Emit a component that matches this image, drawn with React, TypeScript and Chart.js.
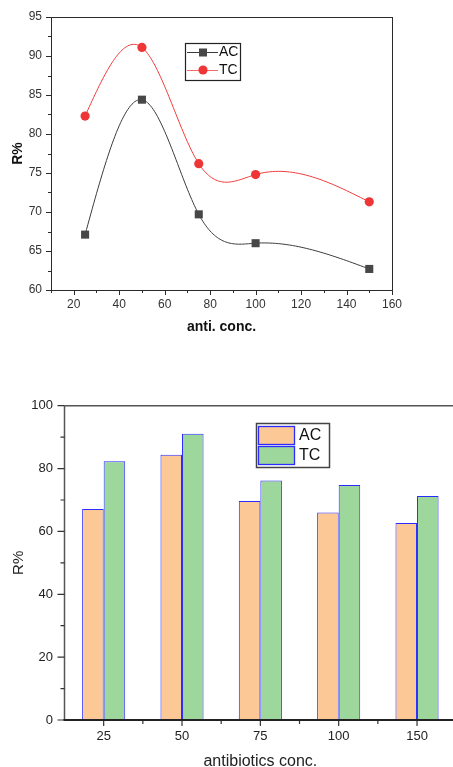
import React, { useEffect, useRef } from "react";
import { Chart, registerables } from "chart.js";

Chart.register(...registerables);

// ---------- data ----------
const concentrations = [25, 50, 75, 100, 150];
const categoryLabels = ["25", "50", "75", "100", "150"];
const acValues = [67.1, 84.4, 69.7, 66.0, 62.7];
const tcValues = [82.3, 91.1, 76.2, 74.8, 71.3];

const lineXTicks = [20, 40, 60, 80, 100, 120, 140, 160];
const lineXMinor = [10, 30, 50, 70, 90, 110, 130, 150];
const lineYTicks = [60, 65, 70, 75, 80, 85, 90, 95];
const lineYMinor = [62.5, 67.5, 72.5, 77.5, 82.5, 87.5, 92.5];
const barYTicks = [0, 20, 40, 60, 80, 100];
const barYMinor = [10, 30, 50, 70, 90];

const FONT = "'Liberation Sans', Arial, Helvetica, sans-serif";
const BAR_TOP = 345;

function crisp(v: number) {
  return Math.round(v) + 0.5;
}

// natural cubic spline through element pixel positions (x monotonic)
function drawNaturalSpline(ctx: CanvasRenderingContext2D, pts: { x: number; y: number }[]) {
  const n = pts.length;
  if (n < 2) return;
  const h: number[] = [];
  for (let i = 0; i < n - 1; i++) h.push(pts[i + 1].x - pts[i].x);
  const M = new Array(n).fill(0);
  if (n > 2) {
    const m = n - 2;
    const a: number[] = [], b: number[] = [], c: number[] = [], d: number[] = [];
    for (let k = 0; k < m; k++) {
      const i = k + 1;
      a.push(h[i - 1]);
      b.push(2 * (h[i - 1] + h[i]));
      c.push(h[i]);
      d.push(6 * ((pts[i + 1].y - pts[i].y) / h[i] - (pts[i].y - pts[i - 1].y) / h[i - 1]));
    }
    for (let k = 1; k < m; k++) {
      const w = a[k] / b[k - 1];
      b[k] -= w * c[k - 1];
      d[k] -= w * d[k - 1];
    }
    const sol = new Array(m).fill(0);
    sol[m - 1] = d[m - 1] / b[m - 1];
    for (let k = m - 2; k >= 0; k--) sol[k] = (d[k] - c[k] * sol[k + 1]) / b[k];
    for (let k = 0; k < m; k++) M[k + 1] = sol[k];
  }
  ctx.beginPath();
  ctx.moveTo(pts[0].x, pts[0].y);
  for (let i = 0; i < n - 1; i++) {
    const hi = h[i];
    const steps = 40;
    for (let s = 1; s <= steps; s++) {
      const t = pts[i].x + (hi * s) / steps;
      const A = pts[i + 1].x - t;
      const B = t - pts[i].x;
      const y =
        (M[i] * A * A * A) / (6 * hi) +
        (M[i + 1] * B * B * B) / (6 * hi) +
        (pts[i].y / hi - (M[i] * hi) / 6) * A +
        (pts[i + 1].y / hi - (M[i + 1] * hi) / 6) * B;
      ctx.lineTo(t, y);
    }
  }
  ctx.stroke();
}

const splinePlugin = {
  id: "splineLines",
  beforeDatasetsDraw(chart: any) {
    const { ctx, chartArea: a } = chart;
    ctx.save();
    ctx.beginPath();
    ctx.rect(a.left, a.top, a.right - a.left, a.bottom - a.top);
    ctx.clip();
    chart.data.datasets.forEach((ds: any, i: number) => {
      const meta = chart.getDatasetMeta(i);
      const pts = meta.data.map((p: any) => ({ x: p.x, y: p.y }));
      ctx.strokeStyle = ds.lineColor;
      ctx.lineWidth = 1;
      drawNaturalSpline(ctx, pts);
    });
    ctx.restore();
  },
};

const lineFramePlugin = {
  id: "lineFrame",
  afterDraw(chart: any) {
    const { ctx, chartArea: a, scales } = chart;
    const xs = scales.x;
    const ys = scales.y;
    ctx.save();
    ctx.strokeStyle = "#2a2a2a";
    ctx.lineWidth = 1;
    ctx.strokeRect(crisp(a.left), crisp(a.top), Math.round(a.right - a.left), Math.round(a.bottom - a.top));
    ctx.beginPath();
    lineYTicks.forEach((v) => {
      const p = crisp(ys.getPixelForValue(v));
      ctx.moveTo(a.left - 5, p);
      ctx.lineTo(a.left, p);
    });
    lineYMinor.forEach((v) => {
      const p = crisp(ys.getPixelForValue(v));
      ctx.moveTo(a.left - 3, p);
      ctx.lineTo(a.left, p);
    });
    lineXTicks.forEach((v) => {
      const p = crisp(xs.getPixelForValue(v));
      ctx.moveTo(p, a.bottom);
      ctx.lineTo(p, a.bottom + 5);
    });
    lineXMinor.forEach((v) => {
      const p = crisp(xs.getPixelForValue(v));
      ctx.moveTo(p, a.bottom);
      ctx.lineTo(p, a.bottom + 3);
    });
    ctx.stroke();

    // legend
    ctx.strokeStyle = "#222";
    ctx.lineWidth = 1.2;
    ctx.strokeRect(185.5, 43.5, 55, 37);
    // AC
    ctx.strokeStyle = "#3c3c3c";
    ctx.lineWidth = 1;
    ctx.beginPath();
    ctx.moveTo(187, 52.5);
    ctx.lineTo(218, 52.5);
    ctx.stroke();
    ctx.fillStyle = "#474747";
    ctx.fillRect(199, 48.5, 8, 8);
    // TC
    ctx.strokeStyle = "#f56a6a";
    ctx.beginPath();
    ctx.moveTo(187, 70.5);
    ctx.lineTo(218, 70.5);
    ctx.stroke();
    ctx.fillStyle = "#ee3636";
    ctx.beginPath();
    ctx.arc(203, 70, 4.6, 0, Math.PI * 2);
    ctx.fill();
    ctx.fillStyle = "#111";
    ctx.font = `14px ${FONT}`;
    ctx.textBaseline = "middle";
    ctx.textAlign = "left";
    ctx.fillText("AC", 219, 52.5);
    ctx.fillText("TC", 219, 70.5);
    ctx.restore();
  },
};

const barFramePlugin = {
  id: "barFrame",
  afterDraw(chart: any) {
    const { ctx, chartArea: a, scales } = chart;
    const xs = scales.x;
    const ys = scales.y;
    ctx.save();
    ctx.strokeStyle = "#555";
    ctx.lineWidth = 1.5;
    ctx.beginPath();
    ctx.moveTo(a.left, a.top);
    ctx.lineTo(chart.width, a.top);
    ctx.stroke();
    ctx.beginPath();
    ctx.moveTo(a.left, a.top);
    ctx.lineTo(a.left, a.bottom);
    ctx.stroke();
    ctx.lineWidth = 1.2;
    ctx.strokeStyle = "#333";
    ctx.beginPath();
    barYTicks.forEach((v) => {
      const p = ys.getPixelForValue(v);
      ctx.moveTo(a.left - 7, p);
      ctx.lineTo(a.left, p);
    });
    barYMinor.forEach((v) => {
      const p = ys.getPixelForValue(v);
      ctx.moveTo(a.left - 4, p);
      ctx.lineTo(a.left, p);
    });
    ctx.stroke();
    ctx.beginPath();
    categoryLabels.forEach((_, i) => {
      const p = xs.getPixelForValue(i);
      ctx.moveTo(p, a.bottom);
      ctx.lineTo(p, a.bottom + 6);
    });
    for (let i = 0; i < categoryLabels.length - 1; i++) {
      const p = xs.getPixelForValue(i + 0.5);
      ctx.moveTo(p, a.bottom);
      ctx.lineTo(p, a.bottom + 4);
    }
    ctx.stroke();
    ctx.strokeStyle = "#222";
    ctx.lineWidth = 2;
    ctx.beginPath();
    ctx.moveTo(a.left - 1, a.bottom);
    ctx.lineTo(chart.width, a.bottom);
    ctx.stroke();

    // legend
    const ly = 423 - BAR_TOP;
    ctx.strokeStyle = "#444";
    ctx.lineWidth = 1.5;
    ctx.strokeRect(256.5, ly + 0.5, 73, 44);
    ctx.lineWidth = 1.3;
    ctx.strokeStyle = "#2b2bff";
    ctx.fillStyle = "#fcc896";
    ctx.fillRect(258.5, ly + 3.5, 36, 18);
    ctx.strokeRect(258.5, ly + 3.5, 36, 18);
    ctx.fillStyle = "#9ed79c";
    ctx.fillRect(258.5, ly + 23.5, 36, 18);
    ctx.strokeRect(258.5, ly + 23.5, 36, 18);
    ctx.fillStyle = "#111";
    ctx.font = `16px ${FONT}`;
    ctx.textBaseline = "middle";
    ctx.textAlign = "left";
    ctx.fillText("AC", 299, ly + 12.5);
    ctx.fillText("TC", 299, ly + 32.5);
    ctx.restore();
  },
};

export default function App() {
  const topRef = useRef<HTMLCanvasElement | null>(null);
  const botRef = useRef<HTMLCanvasElement | null>(null);

  useEffect(() => {
    document.body.style.margin = "0";
    document.body.style.overflow = "hidden";

    const lineChart = new Chart(topRef.current as HTMLCanvasElement, {
      type: "scatter",
      data: {
        datasets: [
          {
            label: "AC",
            data: concentrations.map((c, i) => ({ x: c, y: acValues[i] })),
            showLine: false,
            lineColor: "#3c3c3c",
            borderColor: "#3c3c3c",
            backgroundColor: "#474747",
            pointBackgroundColor: "#474747",
            pointBorderWidth: 0,
            pointStyle: "rect",
            pointRadius: 5.7,
          },
          {
            label: "TC",
            data: concentrations.map((c, i) => ({ x: c, y: tcValues[i] })),
            showLine: false,
            lineColor: "#f03c3c",
            borderColor: "#f03c3c",
            backgroundColor: "#ee3636",
            pointBackgroundColor: "#ee3636",
            pointBorderWidth: 0,
            pointStyle: "circle",
            pointRadius: 4.6,
          },
        ],
      },
      options: {
        responsive: false,
        animation: false,
        devicePixelRatio: 1,
        layout: { padding: { left: 0, top: 17, right: 61, bottom: 0 } },
        plugins: { legend: { display: false }, tooltip: { enabled: false } },
        scales: {
          x: {
            type: "linear",
            min: 10,
            max: 160,
            afterBuildTicks: (s: any) => {
              s.ticks = lineXTicks.map((v) => ({ value: v }));
            },
            afterFit: (s: any) => {
              s.height = 55;
            },
            grid: { display: false, drawTicks: false },
            border: { display: false },
            ticks: {
              font: { family: FONT, size: 12 },
              color: "#333",
              padding: 7.5,
              maxRotation: 0,
              autoSkip: false,
            },
            title: {
              display: true,
              text: "anti. conc.",
              font: { family: FONT, size: 14, weight: "bold" },
              color: "#111",
              padding: { top: 0, bottom: 9 },
            },
          },
          y: {
            type: "linear",
            min: 60,
            max: 95,
            afterBuildTicks: (s: any) => {
              s.ticks = lineYTicks.map((v) => ({ value: v }));
            },
            afterFit: (s: any) => {
              s.width = 51;
            },
            grid: { display: false, drawTicks: false },
            border: { display: false },
            ticks: {
              font: { family: FONT, size: 12 },
              color: "#333",
              padding: 9,
            },
            title: {
              display: true,
              text: "R%",
              font: { family: FONT, size: 14, weight: "bold" },
              color: "#111",
              padding: { top: 10, bottom: 0 },
            },
          },
        },
      },
      plugins: [splinePlugin, lineFramePlugin],
    } as any);

    const barChart = new Chart(botRef.current as HTMLCanvasElement, {
      type: "bar",
      data: {
        labels: categoryLabels,
        datasets: [
          {
            label: "AC",
            data: acValues,
            backgroundColor: "#fcc896",
            borderColor: "#2b2bff",
            borderWidth: 1,
            categoryPercentage: 0.55,
            barPercentage: 1,
          },
          {
            label: "TC",
            data: tcValues,
            backgroundColor: "#9ed79c",
            borderColor: "#2b2bff",
            borderWidth: 1,
            categoryPercentage: 0.55,
            barPercentage: 1,
          },
        ],
      },
      options: {
        responsive: false,
        animation: false,
        devicePixelRatio: 1,
        layout: { padding: { left: 0, top: 60.7, right: 3.8, bottom: 0 } },
        plugins: { legend: { display: false }, tooltip: { enabled: false } },
        scales: {
          x: {
            type: "category",
            offset: true,
            afterFit: (s: any) => {
              s.height = 55;
            },
            grid: { display: false, drawTicks: false },
            border: { display: false },
            ticks: {
              font: { family: FONT, size: 13 },
              color: "#222",
              padding: 8.9,
              maxRotation: 0,
              autoSkip: false,
            },
            title: {
              display: true,
              text: "antibiotics conc.",
              font: { family: FONT, size: 16 },
              color: "#222",
              padding: { top: 0, bottom: 4.2 },
            },
          },
          y: {
            type: "linear",
            min: 0,
            max: 100,
            afterBuildTicks: (s: any) => {
              s.ticks = barYTicks.map((v) => ({ value: v }));
            },
            afterFit: (s: any) => {
              s.width = 64.5;
            },
            grid: { display: false, drawTicks: false },
            border: { display: false },
            ticks: {
              font: { family: FONT, size: 13 },
              color: "#222",
              padding: 11.5,
            },
            title: {
              display: true,
              text: "R%",
              font: { family: FONT, size: 15 },
              color: "#222",
              padding: { top: 10, bottom: 0 },
            },
          },
        },
      },
      plugins: [barFramePlugin],
    } as any);

    return () => {
      lineChart.destroy();
      barChart.destroy();
    };
  }, []);

  return (
    <div style={{ position: "relative", width: 453, height: 767, overflow: "hidden", background: "#fff" }}>
      <canvas
        ref={topRef}
        width={453}
        height={345}
        style={{ position: "absolute", left: 0, top: 0, display: "block" }}
      />
      <canvas
        ref={botRef}
        width={460}
        height={430}
        style={{ position: "absolute", left: 0, top: BAR_TOP, display: "block" }}
      />
    </div>
  );
}
